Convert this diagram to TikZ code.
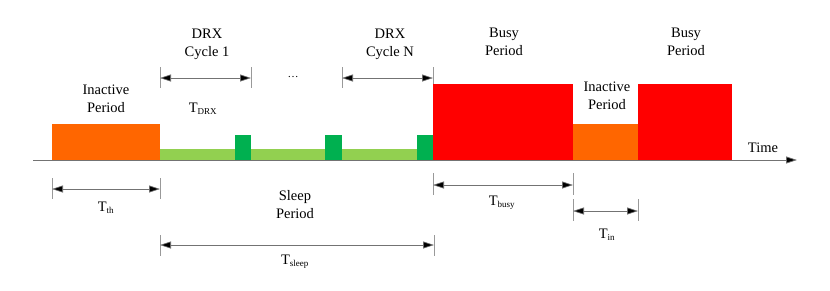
\documentclass[tikz,border=0pt]{standalone}
\usepackage{fontspec}
\setmainfont{Liberation Serif}
\newfontfamily\tnrfont{Liberation Serif}
\usetikzlibrary{arrows.meta}
\definecolor{inorange}{HTML}{FF6600}
\definecolor{busyred}{HTML}{FF0000}
\definecolor{sleepgreen}{HTML}{92D050}
\definecolor{drxgreen}{HTML}{00B050}
\begin{document}
\begin{tikzpicture}[x=1pt,y=-1pt,
  bar/.style={rectangle,inner sep=0pt,outer sep=0pt,draw=none,anchor=south west},
  lbl/.style={align=center,inner sep=0pt,font=\tnrfont\fontsize{14.5}{18}\selectfont},
  sub/.style={inner sep=0pt,font=\tnrfont\fontsize{14.5}{18}\selectfont},
  axisline/.style={draw=black!55,line width=0.7pt,-{Triangle[length=11pt,width=7pt,fill=black]}},
  dim/.style={draw=black!55,line width=0.6pt,{Triangle[length=11pt,width=7pt,fill=black]}-{Triangle[length=11pt,width=7pt,fill=black]}},
  tickline/.style={draw=black!40,line width=0.5pt}]
\useasboundingbox (0,0) rectangle (830,290);
% axis
\coordinate (ax0) at (33,160);
\coordinate (ax1) at (797,160);
\draw[axisline] (ax0) -- (ax1);
% bars
\node[bar,fill=inorange,minimum width=108pt,minimum height=36pt] (in1) at (52,160) {};
\node[bar,fill=sleepgreen,minimum width=273pt,minimum height=11pt] (sleep) at (160,160) {};
\node[bar,fill=drxgreen,minimum width=16pt,minimum height=25pt] (on1) at (235,160) {};
\node[bar,fill=drxgreen,minimum width=17pt,minimum height=25pt] (on2) at (325,160) {};
\node[bar,fill=drxgreen,minimum width=16pt,minimum height=25pt] (on3) at (417,160) {};
\node[bar,fill=busyred,minimum width=140pt,minimum height=76pt] (busy1) at (433,160) {};
\node[bar,fill=inorange,minimum width=65pt,minimum height=36pt] (in2) at (573,160) {};
\node[bar,fill=busyred,minimum width=94pt,minimum height=76pt] (busy2) at (638,160) {};
% top labels
\node[lbl] (lin1) at (106,99) {Inactive\\Period};
\node[lbl] (ldrx1) at (207,44) {DRX\\Cycle 1};
\node[lbl,font=\tnrfont\fontsize{11}{12}\selectfont] (ldots) at (293,77) {\ldots};
\node[lbl] (ldrxn) at (390,44) {DRX\\Cycle N};
\node[sub] (ltdrx) at (203,109) {T\textsubscript{\fontsize{9}{9}\selectfont DRX}};
\node[lbl] (lbusy1) at (504,42) {Busy\\Period};
\node[lbl] (lbusy2) at (686,42) {Busy\\Period};
\node[lbl] (lin2) at (607,96) {Inactive\\Period};
\node[lbl] (ltime) at (763,148) {Time};
% DRX cycle dimensions
\coordinate (c1a) at (160,78); \coordinate (c1b) at (251,78);
\draw[tickline] (160,67) -- (160,88);
\draw[tickline] (251,67) -- (251,88);
\draw[dim] (c1a) -- (c1b);
\coordinate (cna) at (342,78); \coordinate (cnb) at (433,78);
\draw[tickline] (342,67) -- (342,88);
\draw[tickline] (433,67) -- (433,84);
\draw[dim] (cna) -- (cnb);
% T_th
\coordinate (tha) at (52,189); \coordinate (thb) at (160,189);
\draw[tickline] (52,178) -- (52,199);
\draw[tickline] (160,178) -- (160,199);
\draw[dim] (tha) -- (thb);
\node[sub] (ltth) at (106,208) {T\textsubscript{\fontsize{9}{9}\selectfont th}};
% T_sleep
\node[lbl] (lsleep) at (295,205) {Sleep\\Period};
\coordinate (sla) at (160,245); \coordinate (slb) at (434,245);
\draw[tickline] (160,235) -- (160,256);
\draw[tickline] (434,235) -- (434,256);
\draw[dim] (sla) -- (slb);
\node[sub] (ltsleep) at (295,262) {T\textsubscript{\fontsize{9}{9}\selectfont sleep}};
% T_busy
\coordinate (bua) at (433,185); \coordinate (bub) at (573,185);
\draw[tickline] (433,173) -- (433,195);
\draw[tickline] (573,173) -- (573,195);
\draw[dim] (bua) -- (bub);
\node[sub] (ltbusy) at (502,203) {T\textsubscript{\fontsize{9}{9}\selectfont busy}};
% T_in
\coordinate (ina) at (573,211); \coordinate (inb) at (638,211);
\draw[tickline] (573,199) -- (573,221);
\draw[tickline] (638,199) -- (638,221);
\draw[dim] (ina) -- (inb);
\node[sub] (ltin) at (607,235) {T\textsubscript{\fontsize{9}{9}\selectfont in}};
\end{tikzpicture}
\end{document}
